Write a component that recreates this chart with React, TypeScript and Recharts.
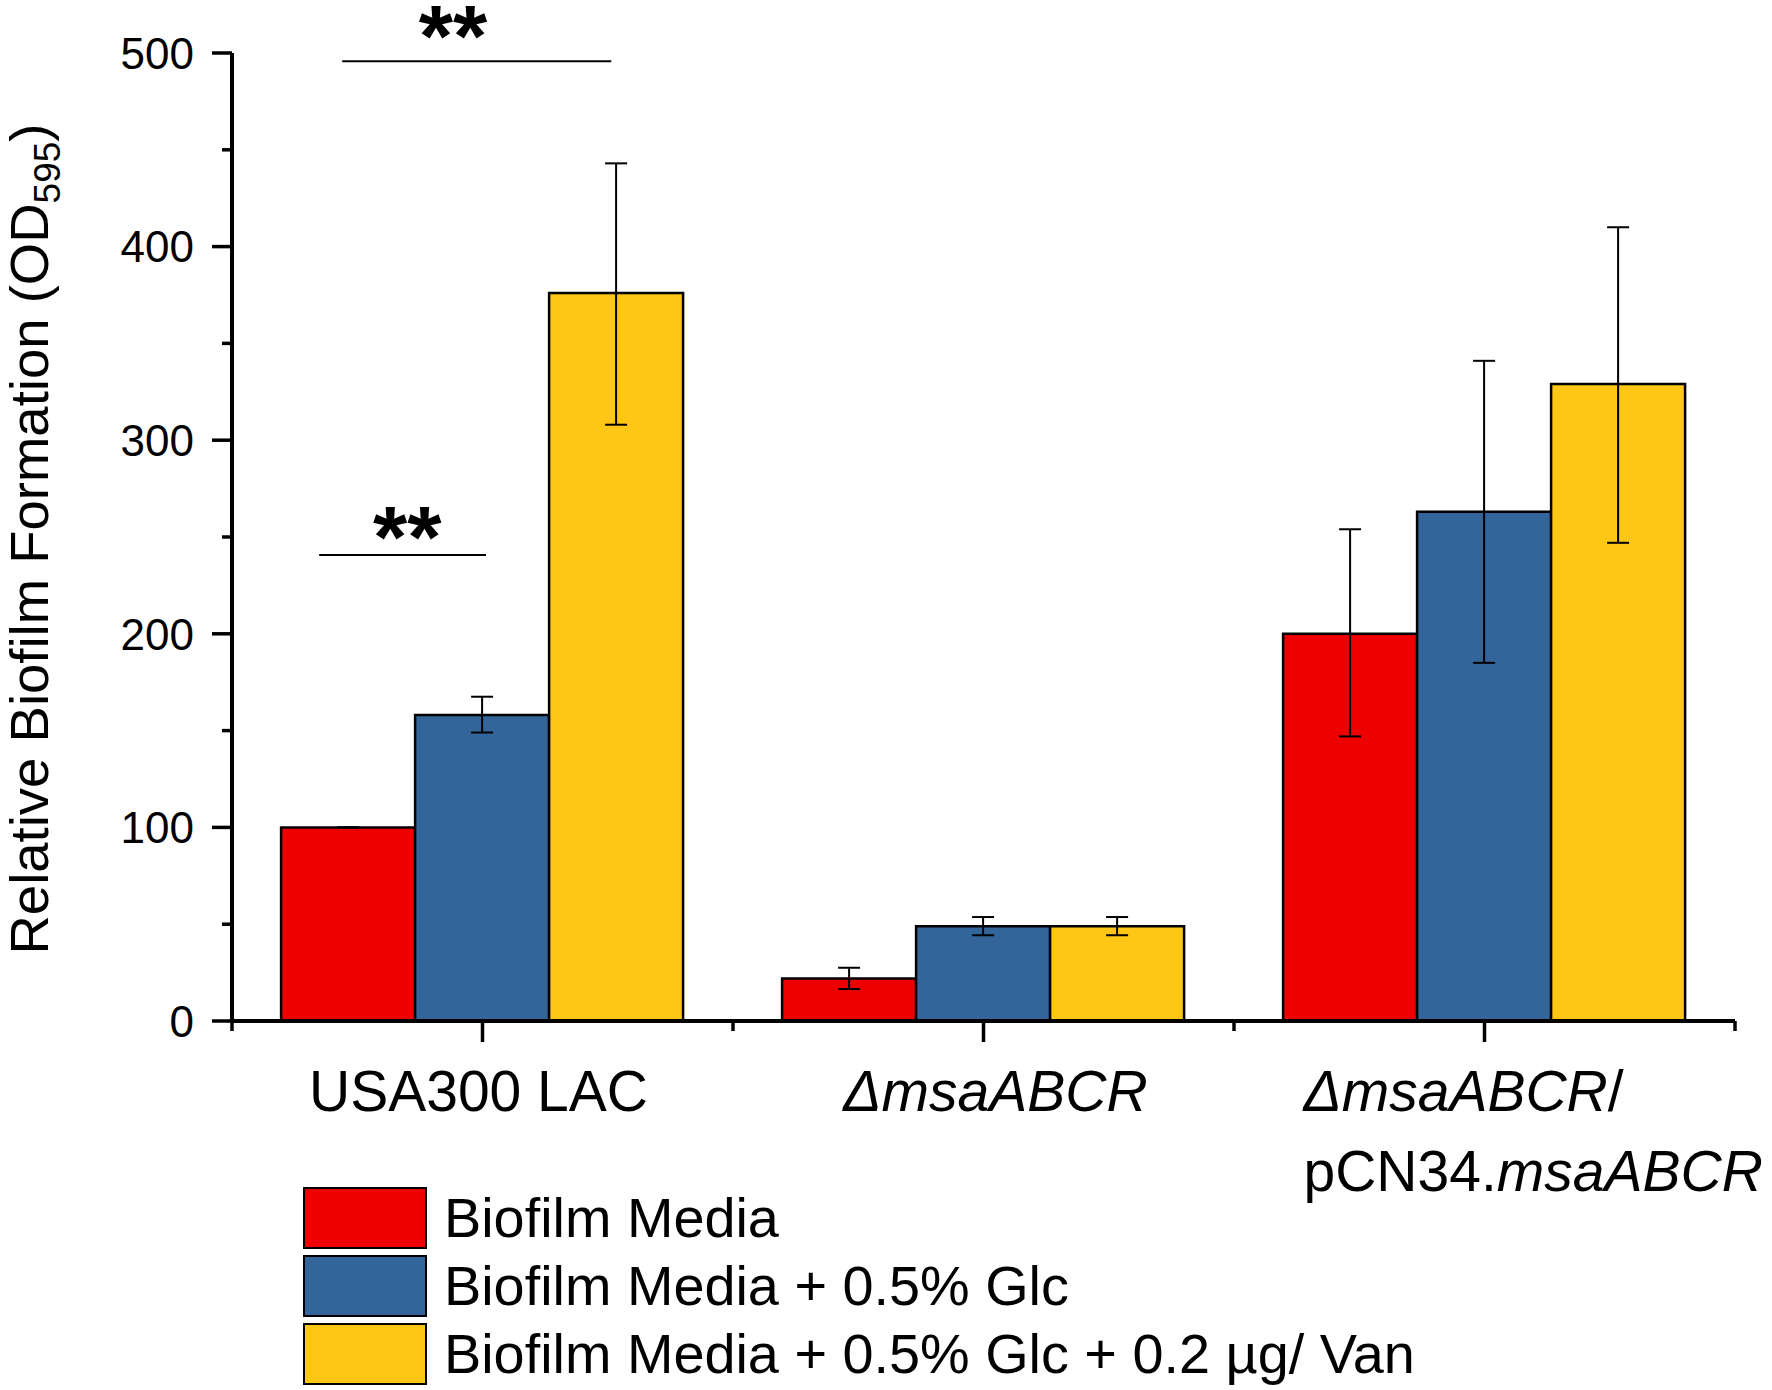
import React from "react";
import {
	Bar,
	BarChart,
	ErrorBar,
	Label,
	Legend,
	ReferenceDot,
	ReferenceLine,
	XAxis,
	YAxis,
} from "recharts";

// strains on the x axis
const categories = ["USA300 LAC", "ΔmsaABCR", "ΔmsaABCR/ pCN34.msaABCR"];

// tick label lines, each segment is [text, italic]
const categoryLabels: [string, boolean][][][] = [
	[[["USA300 LAC", false]]],
	[[["ΔmsaABCR", true]]],
	[
		[
			["ΔmsaABCR", true],
			["/", false],
		],
		[
			["pCN34.", false],
			["msaABCR", true],
		],
	],
];

const seriesNames = [
	"Biofilm Media",
	"Biofilm Media + 0.5% Glc",
	"Biofilm Media + 0.5% Glc + 0.2 µg/ Van",
];
const seriesColors = ["#ee0000", "#33659b", "#fec615"];

const media = [100, 22, 200];
const mediaErr: [number, number][] = [
	[0, 0],
	[5.5, 5.5],
	[53, 54],
];
const glc = [158, 49, 263];
const glcErr: [number, number][] = [
	[9, 9.5],
	[4.7, 4.7],
	[78, 78],
];
const van = [376, 49, 329];
const vanErr: [number, number][] = [
	[68, 67],
	[4.7, 4.7],
	[82, 81],
];

const yTicks = [0, 50, 100, 150, 200, 250, 300, 350, 400, 450, 500];

// significance brackets: category, span as fraction of the band around its centre, value
const sigLines = [
	{ cat: "USA300 LAC", from: -0.28, to: 0.257, y: 495.8 },
	{ cat: "USA300 LAC", from: -0.326, to: 0.007, y: 240.7 },
];
const sigStars = [
	{ cat: "USA300 LAC", dx: -0.059, y: 493.5 },
	{ cat: "USA300 LAC", dx: -0.15, y: 234.5 },
];

const W = 1772;
const H = 1390;
const M = { top: 53, right: 37, left: 0, bottom: 0 };
const Y_AXIS_W = 232;
const X_AXIS_H = 369;
const BAND = (W - Y_AXIS_W - M.right) / categories.length;
const LABEL_DX = [-4, 12, -181];
const FONT = '"Liberation Sans", Arial, sans-serif';

const data = categories.map((c, i) => ({
	name: c,
	media: media[i],
	mediaErr: mediaErr[i],
	glc: glc[i],
	glcErr: glcErr[i],
	van: van[i],
	vanErr: vanErr[i],
}));

function YTick({ x, y, payload }: any) {
	const major = payload.value % 100 === 0;
	return (
		<g>
			<line
				x1={x - (major ? 20 : 10)}
				x2={x}
				y1={y}
				y2={y}
				stroke="#000"
				strokeWidth={3.5}
			/>
			{major && (
				<text
					x={x - 38}
					y={y}
					dy="0.36em"
					textAnchor="end"
					fontSize={44}
					fontFamily={FONT}
					fill="#000"
				>
					{payload.value}
				</text>
			)}
		</g>
	);
}

function XTick({ x, y, index }: any) {
	const lines = categoryLabels[index] || [];
	const half = BAND / 2;
	const last = index === categories.length - 1;
	const multi = lines.length > 1;
	const tx = x + (LABEL_DX[index] || 0);
	return (
		<g>
			<line x1={x} x2={x} y1={y} y2={y + 21} stroke="#000" strokeWidth={3.5} />
			<line
				x1={x - half}
				x2={x - half}
				y1={y}
				y2={y + 10}
				stroke="#000"
				strokeWidth={3.5}
			/>
			{last && (
				<line
					x1={x + half}
					x2={x + half}
					y1={y}
					y2={y + 10}
					stroke="#000"
					strokeWidth={3.5}
				/>
			)}
			<text
				x={tx}
				y={y + 90}
				textAnchor={multi ? "start" : "middle"}
				fontSize={57}
				fontFamily={FONT}
				fill="#000"
			>
				{lines.map((line, li) => (
					<tspan key={li} x={tx} dy={li ? 80 : 0}>
						{line.map(([t, it], si) => (
							<tspan key={si} fontStyle={it ? "italic" : "normal"}>
								{t}
							</tspan>
						))}
					</tspan>
				))}
			</text>
		</g>
	);
}

function YTitle({ viewBox }: any) {
	const cy = viewBox.y + viewBox.height / 2 + 2;
	const x = 48;
	return (
		<text
			x={x}
			y={cy}
			transform={`rotate(-90, ${x}, ${cy})`}
			textAnchor="middle"
			fontSize={54.5}
			fontFamily={FONT}
			fill="#000"
		>
			Relative Biofilm Formation (OD
			<tspan dy={12} fontSize={37}>
				595
			</tspan>
			<tspan dy={-12}>)</tspan>
		</text>
	);
}

function SigLine({ x1, y1, from, to }: any) {
	return (
		<line
			x1={x1 + from * BAND}
			x2={x1 + to * BAND}
			y1={y1}
			y2={y1}
			stroke="#000"
			strokeWidth={2}
		/>
	);
}

function Stars({ viewBox, dx }: any) {
	return (
		<text
			x={viewBox.x + dx * BAND}
			y={viewBox.y}
			textAnchor="middle"
			fontSize={88}
			fontWeight="bold"
			fontFamily={FONT}
			fill="#000"
		>
			**
		</text>
	);
}

function LegendBox({ payload }: any) {
	return (
		<div style={{ fontFamily: FONT }}>
			{(payload || []).map((p: any, i: number) => (
				<div
					key={i}
					style={{ display: "flex", alignItems: "center", height: 68 }}
				>
					<div
						style={{
							width: 124,
							height: 62,
							background: p.color,
							border: "2.5px solid #000",
							boxSizing: "border-box",
						}}
					/>
					<span
						style={{
							marginLeft: 17,
							fontSize: 55.8,
							lineHeight: 1,
							color: "#000",
							whiteSpace: "nowrap",
						}}
					>
						{p.value}
					</span>
				</div>
			))}
		</div>
	);
}

export default function App() {
	const series = [
		{ key: "media", err: "mediaErr" },
		{ key: "glc", err: "glcErr" },
		{ key: "van", err: "vanErr" },
	];
	return (
		<div
			style={{
				position: "absolute",
				left: 0,
				top: 0,
				width: W,
				height: H,
				background: "#fff",
			}}
		>
			<BarChart
				width={W}
				height={H}
				data={data}
				margin={M}
				barCategoryGap="9.8%"
				barGap={0}
			>
				<XAxis
					dataKey="name"
					height={X_AXIS_H}
					tickLine={false}
					tickSize={0}
					tickMargin={0}
					axisLine={{ stroke: "#000", strokeWidth: 4 }}
					tick={<XTick />}
					interval={0}
				/>
				<YAxis
					width={Y_AXIS_W}
					domain={[0, 500]}
					ticks={yTicks}
					interval={0}
					tickLine={false}
					tickSize={0}
					tickMargin={0}
					axisLine={{ stroke: "#000", strokeWidth: 4 }}
					tick={<YTick />}
				>
					<Label content={<YTitle />} />
				</YAxis>
				<Legend
					layout="vertical"
					verticalAlign="middle"
					align="center"
					content={<LegendBox />}
					wrapperStyle={{ left: 303, top: 1184, width: "auto", height: "auto" }}
				/>
				{series.map((s, i) => (
					<Bar
						key={s.key}
						dataKey={s.key}
						name={seriesNames[i]}
						fill={seriesColors[i]}
						stroke="#000"
						strokeWidth={2.5}
						isAnimationActive={false}
					>
						<ErrorBar
							dataKey={s.err}
							width={11}
							stroke="#000"
							strokeWidth={2}
							isAnimationActive={false}
						/>
					</Bar>
				))}
				{sigLines.map((l, i) => (
					<ReferenceLine
						key={i}
						segment={[
							{ x: l.cat, y: l.y },
							{ x: l.cat, y: l.y },
						]}
						ifOverflow="visible"
						shape={(p: any) => <SigLine {...p} from={l.from} to={l.to} />}
					/>
				))}
				{sigStars.map((s, i) => (
					<ReferenceDot
						key={i}
						x={s.cat}
						y={s.y}
						r={0}
						fill="none"
						stroke="none"
						ifOverflow="visible"
						label={<Stars dx={s.dx} />}
					/>
				))}
			</BarChart>
		</div>
	);
}
